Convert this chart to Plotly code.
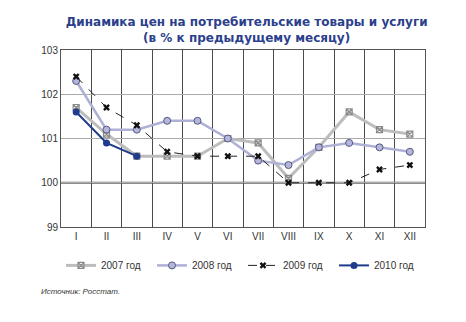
import plotly.graph_objects as go

months = ["I", "II", "III", "IV", "V", "VI", "VII", "VIII", "IX", "X", "XI", "XII"]
y2007 = [101.7, 101.1, 100.6, 100.6, 100.6, 101.0, 100.9, 100.1, 100.8, 101.6, 101.2, 101.1]
y2008 = [102.3, 101.2, 101.2, 101.4, 101.4, 101.0, 100.5, 100.4, 100.8, 100.9, 100.8, 100.7]
y2009 = [102.4, 101.7, 101.3, 100.7, 100.6, 100.6, 100.6, 100.0, 100.0, 100.0, 100.3, 100.4]
y2010 = [101.6, 100.9, 100.6]
y_ticks = [99, 100, 101, 102, 103]

FONT = "Liberation Sans, Arial, sans-serif"

fig = go.Figure()
fig.add_trace(go.Scatter(
    x=months, y=y2007, name="2007 год", mode="lines+markers",
    line=dict(color="#bdbdbd", width=3),
    marker=dict(symbol="square-x-open", size=6, color="#8a8a8a", line=dict(width=1.2)),
))
fig.add_trace(go.Scatter(
    x=months, y=y2008, name="2008 год", mode="lines+markers",
    line=dict(color="#aeb0d6", width=2.5),
    marker=dict(symbol="circle", size=7, color="#b4b6dc", line=dict(color="#555a80", width=1)),
))
fig.add_trace(go.Scatter(
    x=months, y=y2009, name="2009 год", mode="lines+markers",
    line=dict(color="#222222", width=1, dash="dash"),
    marker=dict(symbol="x", size=6, color="#111111", line=dict(width=0, color="#111111")),
))
fig.add_trace(go.Scatter(
    x=months[:len(y2010)], y=y2010, name="2010 год", mode="lines+markers",
    line=dict(color="#1f3b8c", width=2),
    marker=dict(symbol="circle", size=7, color="#1f3b8c"),
))

fig.update_layout(
    width=466, height=322,
    margin=dict(l=61, r=41, t=50, b=95),
    paper_bgcolor="white", plot_bgcolor="white",
    font=dict(family=FONT, size=10, color="#333333"),
    title=dict(
        text="<b>Динамика цен на потребительские товары и услуги<br>(в % к предыдущему месяцу)</b>",
        x=0.51, xanchor="center", xref="paper", y=0.918, yanchor="top",
        font=dict(family="DejaVu Sans, sans-serif", size=12, color="#2b3f8c"),
    ),
    showlegend=True,
    legend=dict(
        orientation="h", x=0.5, xanchor="center", y=-0.135, yanchor="top",
        font=dict(family=FONT, size=10, color="#333333"),
        itemwidth=30, entrywidth=46, tracegroupgap=0,
    ),
)
fig.update_xaxes(
    type="category", categoryorder="array", categoryarray=months,
    tickson="boundaries", range=[-0.5, 11.5],
    showgrid=True, gridcolor="#4a4a4a", gridwidth=1,
    showline=True, linecolor="#555555", linewidth=1, mirror=True,
    ticks="", tickfont=dict(size=10, color="#333333"),
    zeroline=False, fixedrange=True,
)
fig.update_yaxes(
    range=[99, 103], tickvals=y_ticks, ticktext=[str(v) for v in y_ticks],
    showgrid=True, gridcolor="#aaaaaa", gridwidth=1,
    showline=True, linecolor="#555555", linewidth=1, mirror=True,
    ticks="", tickfont=dict(size=10, color="#333333"),
    zeroline=False,
)
fig.add_hline(y=101, line=dict(color="#111111", width=1), layer="below")
fig.add_hline(y=100, line=dict(color="#666666", width=2), layer="below")

fig.add_annotation(
    text="<i>Источник: Росстат.</i>", xref="paper", yref="paper",
    x=-0.06, y=-0.33, xanchor="left", yanchor="top", showarrow=False,
    font=dict(family=FONT, size=8, color="#333333"),
)

fig.write_html("out.html")
